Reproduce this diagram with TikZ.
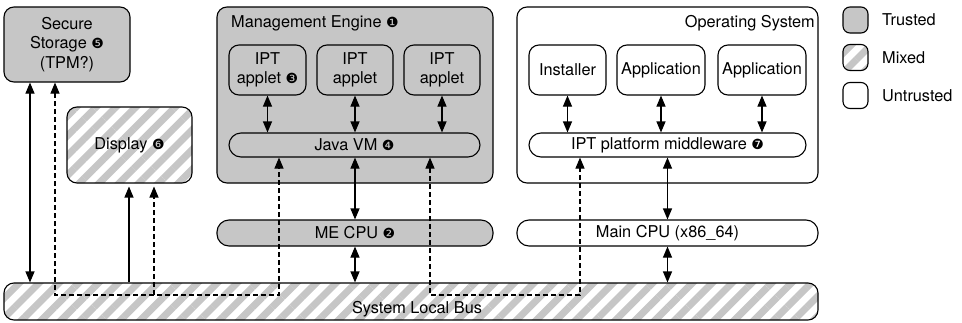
\documentclass[tikz,border=0pt]{standalone}
\usepackage{fontspec}
\setmainfont{TeX Gyre Heros}
\newfontfamily\dvfont{DejaVu Sans}
\usetikzlibrary{arrows.meta,patterns.meta}
\definecolor{tgray}{RGB}{198,198,198}
\newcommand{\circnum}[1]{{\dvfont\fontsize{14}{14}\selectfont #1}}
\begin{document}
\begin{tikzpicture}[x=1pt,y=-1pt,
  font=\fontsize{16.3}{19.5}\selectfont,
  base/.style={draw=black, line width=1.1pt, inner sep=0pt, align=center},
  trusted/.style={base, fill=tgray},
  mixed/.style={base, pattern={Lines[angle=45,distance=14pt,line width=7pt]}, pattern color=tgray},
  untrusted/.style={base, fill=white},
  rbox/.style={rounded corners=10pt},
  pill/.style={rounded corners=12pt},
  label/.style={inner sep=0pt},
  tip/.tip={Triangle[length=11pt,width=9pt]},
  conn/.style={line width=1.1pt},
  dbl/.style={conn, tip-tip},
  uparr/.style={conn, -tip},
  dsh/.style={conn, dash pattern=on 5pt off 3pt}
]
\useasboundingbox (0,0) rectangle (962,322);
\fill[white] (0,0) rectangle (962,322);

% Secure storage and display
\node[trusted,rbox,minimum width=126pt,minimum height=75pt] (storage) at (67,44.5) {Secure\\Storage \circnum{❺}\\(TPM?)};
\node[mixed,rbox,minimum width=125pt,minimum height=76pt] (display) at (129.5,145) {Display \circnum{❻}};

% Management engine
\node[trusted,rbox,minimum width=276pt,minimum height=176pt] (me) at (355,95) {};
\node[label,anchor=west] (metitle) at (231,23) {Management Engine \circnum{❶}};
\node[trusted,rbox,minimum width=77pt,minimum height=50pt] (ap1) at (267.5,70) {IPT\\applet \circnum{❸}};
\node[trusted,rbox,minimum width=76pt,minimum height=50pt] (ap2) at (355,70) {IPT\\applet};
\node[trusted,rbox,minimum width=76pt,minimum height=50pt] (ap3) at (442,70) {IPT\\applet};
\node[trusted,pill,minimum width=251pt,minimum height=24pt] (jvm) at (354.5,145) {Java VM \circnum{❹}};
\node[trusted,pill,minimum width=276pt,minimum height=26pt] (mecpu) at (355,233) {ME CPU \circnum{❷}};

% Operating system
\node[untrusted,rbox,minimum width=301pt,minimum height=176pt] (os) at (667.5,95) {};
\node[label,anchor=east] (ostitle) at (815,23) {Operating System};
\node[untrusted,rbox,minimum width=77pt,minimum height=50pt] (inst) at (567.5,70) {Installer};
\node[untrusted,rbox,minimum width=88pt,minimum height=50pt] (app1) at (661,70) {Application};
\node[untrusted,rbox,minimum width=88pt,minimum height=50pt] (app2) at (762,70) {Application};
\node[untrusted,pill,minimum width=277pt,minimum height=24pt] (mw) at (667.5,145) {IPT platform middleware \circnum{❼}};
\node[untrusted,pill,minimum width=301pt,minimum height=26pt] (cpu) at (667.5,233) {Main CPU (x86\_64)};

% Bus
\node[mixed,rounded corners=10pt,minimum width=814pt,minimum height=37pt] (bus) at (411,301.5) {};
\node (buslabel) at (417,309) {System Local Bus};

% Legend
\node[trusted,rounded corners=7pt,minimum width=25pt,minimum height=26pt] (lt) at (855.5,20) {};
\node[label,anchor=west] (ltl) at (882,20) {Trusted};
\node[mixed,rounded corners=7pt,minimum width=25pt,minimum height=26pt] (lm) at (855.5,57.5) {};
\node[label,anchor=west] (lml) at (882,57.5) {Mixed};
\node[untrusted,rounded corners=7pt,minimum width=25pt,minimum height=26pt] (lu) at (855.5,95.5) {};
\node[label,anchor=west] (lul) at (882,95.5) {Untrusted};

% Connectors inside ME and OS
\draw[dbl] (ap1.south) -- (ap1.south |- jvm.north);
\draw[dbl] (ap2.south) -- (ap2.south |- jvm.north);
\draw[dbl] (ap3.south) -- (ap3.south |- jvm.north);
\draw[dbl] (inst.south) -- (inst.south |- mw.north);
\draw[dbl] (app1.south) -- (app1.south |- mw.north);
\draw[dbl] (app2.south) -- (app2.south |- mw.north);

% CPUs
\draw[dbl] (mecpu.north) -- (mecpu.north |- jvm.south);
\draw[dbl] (mecpu.south) -- (mecpu.south |- bus.north);
\draw[dbl] (cpu.north) -- (cpu.north |- mw.south);
\draw[dbl] (cpu.south) -- (cpu.south |- bus.north);

% Storage and display
\draw[dbl] (storage.south -| 30,0) -- (bus.north -| 30,0);
\draw[uparr] (bus.north -| 129,0) -- (display.south -| 129,0);

\coordinate (d1) at (55,295);
\coordinate (d2) at (279,295);
\coordinate (d3) at (154,295);
\coordinate (d4) at (430,295);
\coordinate (d5) at (580,295);
\draw[dsh,tip-tip] (storage.south -| d1) -- (d1) -- (d2) -- (jvm.south -| d2);
\draw[dsh,-tip] (d3) -- (display.south -| d3);
\draw[dsh,tip-tip] (jvm.south -| d4) -- (d4) -- (d5) -- (mw.south -| d5);
\end{tikzpicture}
\end{document}
